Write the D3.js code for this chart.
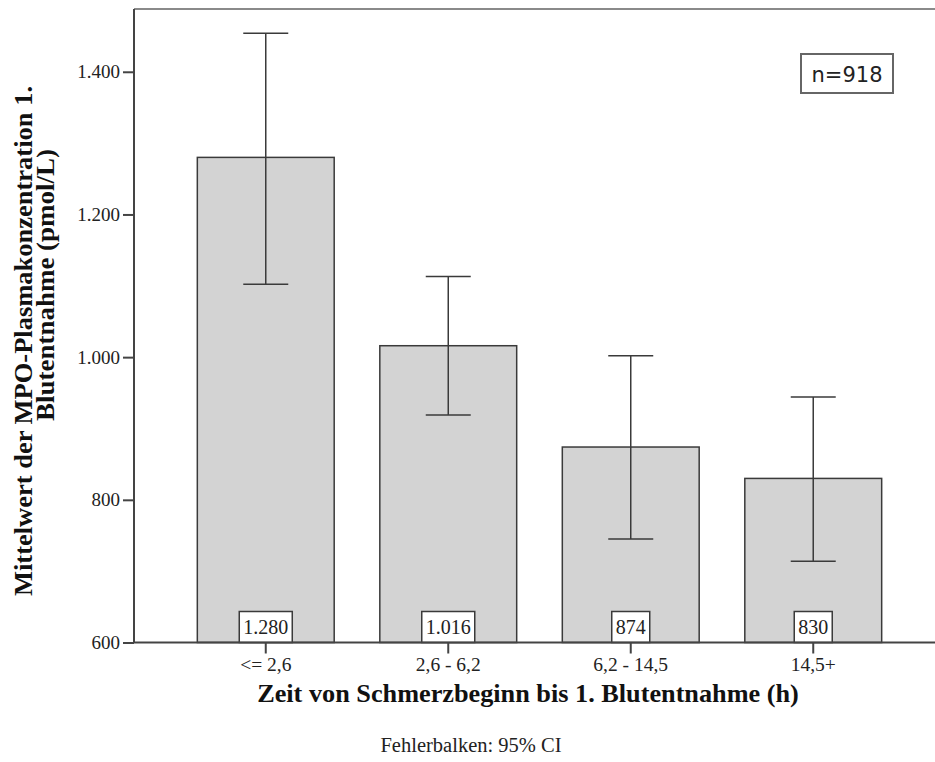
<!DOCTYPE html>
<html>
<head>
<meta charset="utf-8">
<script src="https://cdn.jsdelivr.net/npm/d3@7"></script>
<style>
  html, body { margin: 0; padding: 0; background: #fff; }
  svg { display: block; }
</style>
</head>
<body>
<svg id="chart" width="935" height="762"></svg>
<script>
// Time from pain onset to first blood sample (h)
const categories = ["<= 2,6", "2,6 - 6,2", "6,2 - 14,5", "14,5+"];
// Mean MPO plasma concentration (pmol/L)
const means = [1280, 1016, 874, 830];
// 95% confidence interval bounds
const ciLower = [1102, 919, 745, 714];
const ciUpper = [1454, 1113, 1002, 944];
const yTicks = [600, 800, 1000, 1200, 1400];
const sampleSize = 918;

const svg = d3.select("#chart");
const serif = "'Liberation Serif', 'Times New Roman', serif";

const plot = { left: 134, right: 945, top: 9, bottom: 642.5 };

const x = d3.scaleBand()
  .domain(categories)
  .range([plot.left, plot.right])
  .paddingInner(0.25)
  .paddingOuter(0.347);

const y = d3.scaleLinear()
  .domain([600, 1488])
  .range([plot.bottom, plot.top]);

const fmt = v => d3.format(",")(v).replace(/,/g, ".");

// frame (top & right)
svg.append("path")
  .attr("d", `M${plot.left},${plot.top}H${plot.right}V${plot.bottom}`)
  .attr("fill", "none")
  .attr("stroke", "#8a8a8a")
  .attr("stroke-width", 2);

// bars
const g = svg.append("g");
g.selectAll("rect.bar")
  .data(means)
  .join("rect")
  .attr("class", "bar")
  .attr("x", (d, i) => x(categories[i]))
  .attr("y", d => y(d))
  .attr("width", x.bandwidth())
  .attr("height", d => y(600) - y(d))
  .attr("fill", "#d3d3d3")
  .attr("stroke", "#3a3a3a")
  .attr("stroke-width", 1.5);

// error bars
const capHalf = 22.5;
const eb = g.selectAll("g.err")
  .data(means)
  .join("g")
  .attr("class", "err")
  .attr("stroke", "#3a3a3a")
  .attr("stroke-width", 1.5);
eb.append("line")
  .attr("x1", (d, i) => x(categories[i]) + x.bandwidth() / 2)
  .attr("x2", (d, i) => x(categories[i]) + x.bandwidth() / 2)
  .attr("y1", (d, i) => y(ciLower[i]))
  .attr("y2", (d, i) => y(ciUpper[i]));
eb.append("line")
  .attr("x1", (d, i) => x(categories[i]) + x.bandwidth() / 2 - capHalf)
  .attr("x2", (d, i) => x(categories[i]) + x.bandwidth() / 2 + capHalf)
  .attr("y1", (d, i) => y(ciUpper[i]))
  .attr("y2", (d, i) => y(ciUpper[i]));
eb.append("line")
  .attr("x1", (d, i) => x(categories[i]) + x.bandwidth() / 2 - capHalf)
  .attr("x2", (d, i) => x(categories[i]) + x.bandwidth() / 2 + capHalf)
  .attr("y1", (d, i) => y(ciLower[i]))
  .attr("y2", (d, i) => y(ciLower[i]));

// value labels in boxes at the bar bases
const vl = g.selectAll("g.vlabel")
  .data(means)
  .join("g")
  .attr("class", "vlabel")
  .attr("transform", (d, i) => `translate(${x(categories[i]) + x.bandwidth() / 2},${y(600)})`);
vl.each(function (d) {
  const sel = d3.select(this);
  const rect = sel.append("rect");
  const t = sel.append("text")
    .attr("text-anchor", "middle")
    .attr("y", -9)
    .attr("font-family", serif)
    .attr("font-size", 20)
    .attr("fill", "#222")
    .text(fmt(d));
  const w = t.node().getComputedTextLength() + 8;
  rect.attr("x", -w / 2).attr("y", -31).attr("width", w).attr("height", 31)
    .attr("fill", "#fff").attr("stroke", "#3a3a3a").attr("stroke-width", 1.5);
});

// axes
const yAxis = svg.append("g")
  .attr("transform", `translate(${plot.left},0)`)
  .call(d3.axisLeft(y).tickValues(yTicks).tickFormat(fmt).tickSize(11).tickPadding(3));
const xAxis = svg.append("g")
  .attr("transform", `translate(0,${plot.bottom})`)
  .call(d3.axisBottom(x).tickSize(11).tickPadding(4));
[yAxis, xAxis].forEach(a => {
  a.select(".domain").attr("stroke", "#444").attr("stroke-width", 2);
  a.selectAll(".tick line").attr("stroke", "#444").attr("stroke-width", 2);
  a.selectAll(".tick text").attr("font-family", serif).attr("font-size", 19.5).attr("fill", "#222");
});
yAxis.selectAll(".tick text").attr("font-size", 19);
yAxis.select(".domain").attr("d", `M0,${plot.top}V${plot.bottom}`);
xAxis.select(".domain").attr("d", `M${plot.left},0H${plot.right}`);

// axis titles (slightly widened bold serif)
svg.append("text")
  .attr("transform", "translate(528,702) scale(1.05,1)")
  .attr("text-anchor", "middle")
  .attr("font-family", serif).attr("font-weight", "bold").attr("font-size", 25)
  .attr("fill", "#111")
  .text("Zeit von Schmerzbeginn bis 1. Blutentnahme (h)");

const yTitle = svg.append("g")
  .attr("font-family", serif).attr("font-weight", "bold").attr("font-size", 25)
  .attr("fill", "#111")
  .attr("text-anchor", "middle");
yTitle.append("text")
  .attr("transform", "translate(32,341) rotate(-90) scale(1.06,1)")
  .text("Mittelwert der MPO-Plasmakonzentration 1.");
yTitle.append("text")
  .attr("transform", "translate(54,285) rotate(-90) scale(1.08,1)")
  .text("Blutentnahme (pmol/L)");

// footnote
svg.append("text")
  .attr("x", 471).attr("y", 752)
  .attr("text-anchor", "middle")
  .attr("font-family", serif).attr("font-size", 20.5)
  .attr("fill", "#222")
  .text("Fehlerbalken: 95% CI");

// sample size box
const nb = svg.append("g").attr("transform", "translate(847,73.5)");
nb.append("rect")
  .attr("x", -46).attr("y", -19.5).attr("width", 92).attr("height", 39)
  .attr("fill", "#fff").attr("stroke", "#666").attr("stroke-width", 2);
nb.append("text")
  .attr("text-anchor", "middle")
  .attr("y", 8)
  .attr("font-family", "'DejaVu Sans', sans-serif").attr("font-size", 21)
  .attr("fill", "#222")
  .text(`n=${sampleSize}`);
</script>
</body>
</html>
